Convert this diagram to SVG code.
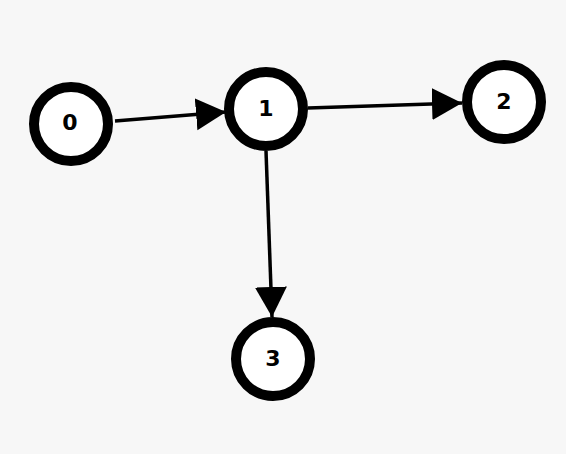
<svg xmlns="http://www.w3.org/2000/svg" width="566" height="454" viewBox="0 0 566 454">
<style>
.node circle{fill:#fff;stroke:#000;stroke-width:10}
.node text{font-family:"DejaVu Sans","Liberation Sans",sans-serif;font-weight:bold;font-size:22px;fill:#000;text-anchor:middle}
.edge{stroke:#000;stroke-width:3.5;fill:none;marker-end:url(#arr)}
</style>
<defs>
<marker id="arr" markerUnits="userSpaceOnUse" markerWidth="32" markerHeight="34" refX="30" refY="16" orient="auto">
<path d="M0,0 L30,16 L0,32 Z" fill="#000"/>
</marker>
</defs>
<rect width="566" height="454" fill="#f7f7f7"/>
<g id="edges">
<path class="edge" d="M115,121 L226,112"/>
<path class="edge" d="M308,108 L462,103"/>
<path class="edge" d="M266,151 L272,317"/>
</g>
<g id="node0" class="node"><circle cx="71" cy="124" r="37"/><text x="70" y="130">0</text></g>
<g id="node1" class="node"><circle cx="266" cy="109" r="37"/><text x="266" y="116">1</text></g>
<g id="node2" class="node"><circle cx="504" cy="102" r="37"/><text x="504" y="109">2</text></g>
<g id="node3" class="node"><circle cx="273" cy="359" r="37"/><text x="273" y="366">3</text></g>
</svg>
